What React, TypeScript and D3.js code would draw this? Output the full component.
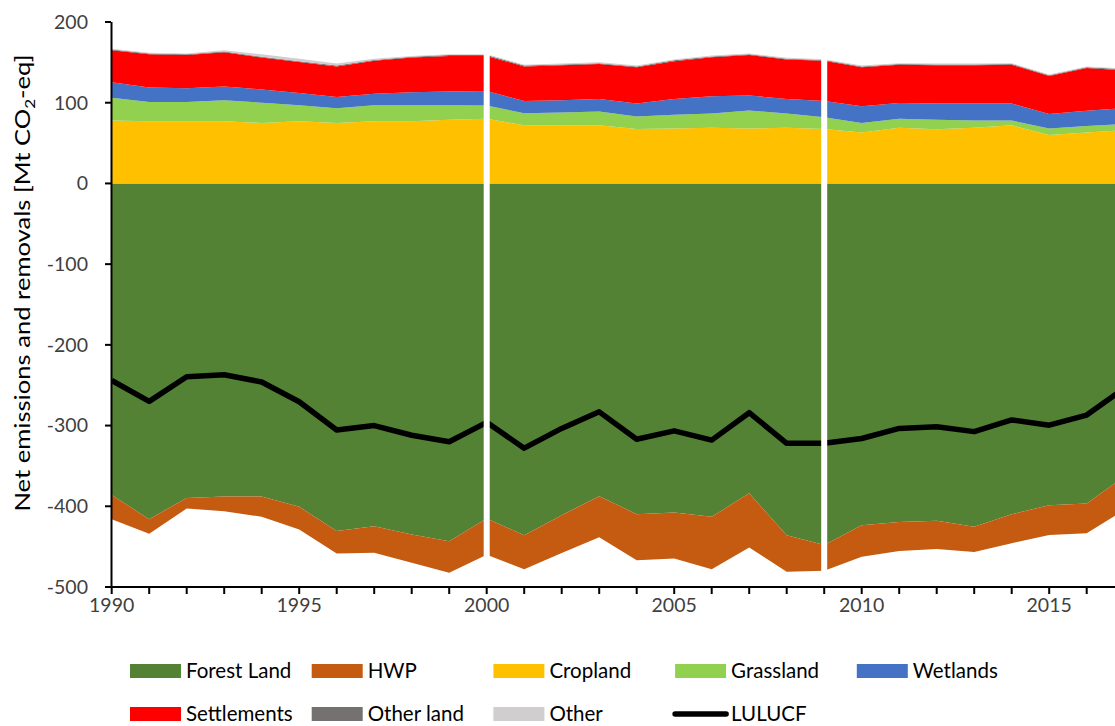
import React from "react";
import * as d3 from "d3";

const years = [1990,1991,1992,1993,1994,1995,1996,1997,1998,1999,2000,2001,2002,2003,2004,2005,2006,2007,2008,2009,2010,2011,2012,2013,2014,2015,2016,2017];

const forestLand = [-386,-416,-389.6,-388,-388,-400.7,-430.5,-424.7,-435,-443.3,-415,-436,-411,-387.5,-409.8,-407.7,-413,-384,-436,-448,-423.5,-419.4,-418,-425.5,-409.8,-398.6,-396.5,-363.5];
const hwp = [-30,-18,-13,-18,-25,-28,-28,-33,-35,-39,-45,-42,-47,-51,-57,-57,-65,-67,-45,-32,-39,-36,-35,-31,-36,-37,-37,-41];
const cropland = [78,77,77,77,75,77,75,77,77,79,80,72,72,72,67.5,68,69,68,69,67.5,63,69,67,69,72,60,63,66];
const grassland = [28,24,24,26,25,20,18,20,20,18,16.5,15,16,17,15.5,17,17.5,22.5,17.5,14.5,12,11,12,9,6,8,8,7.5];
const wetlands = [19.5,18,17,17,16.5,15,14,14,16,17,18,15,15,15.7,16,19.7,21.5,18.5,18.2,20,20.5,19.7,20,21,21,18,19,20];
const settlements = [39.5,41,41,42.5,39.5,38.5,38,41,43,44,43.5,43,43.5,43.3,45,46.8,48.4,50,48.9,50,48.5,47.3,47.5,47.5,48,47,53,46.8];
const otherLand = [1,1,1,1,1,1,1,1,1,1,1,1,1,1,1,1,1,1,1,1,1,1,1,1,1,1,1,1];
const other = [1,1,1,1.5,3,3,2.5,1.5,1,1,1,1,1,1,1,1,1,1,1,1,1,1,1,1,1,1,1,1];
const lulucf = [-244,-270,-239.5,-237,-246,-270.5,-305.5,-300,-312,-320,-296,-328,-303.5,-283,-317,-306.5,-318,-284,-322,-322,-316,-303.5,-301.5,-307.5,-293,-299.5,-287,-254];

const yTicks = [200,100,0,-100,-200,-300,-400,-500];
const xTickLabels = [1990,1995,2000,2005,2010,2015];
const gapYears = [2000,2009];

const posSeries = [
  { name: "Cropland", values: cropland, color: "#FFC000" },
  { name: "Grassland", values: grassland, color: "#92D050" },
  { name: "Wetlands", values: wetlands, color: "#4472C4" },
  { name: "Settlements", values: settlements, color: "#FF0000" },
  { name: "Other land", values: otherLand, color: "#767171" },
  { name: "Other", values: other, color: "#D0CECE" },
];
const negSeries = [
  { name: "Forest Land", values: forestLand, color: "#548235" },
  { name: "HWP", values: hwp, color: "#C55A11" },
];

const legendRows = [
  [
    { name: "Forest Land", color: "#548235", type: "rect" },
    { name: "HWP", color: "#C55A11", type: "rect" },
    { name: "Cropland", color: "#FFC000", type: "rect" },
    { name: "Grassland", color: "#92D050", type: "rect" },
    { name: "Wetlands", color: "#4472C4", type: "rect" },
  ],
  [
    { name: "Settlements", color: "#FF0000", type: "rect" },
    { name: "Other land", color: "#767171", type: "rect" },
    { name: "Other", color: "#D0CECE", type: "rect" },
    { name: "LULUCF", color: "#000000", type: "line" },
  ],
];

const W = 1115, H = 726;
const FONT = "Lato, 'Open Sans', sans-serif";

export default function App() {
  const x = d3.scaleLinear().domain([1990, 2017]).range([111.7, 111.7 + 27 * 37.5]);
  const y = d3.scaleLinear().domain([-500, 200]).range([587, 22]);

  const stackArea = (series) => {
    const out = [];
    const base = years.map(() => 0);
    series.forEach((s) => {
      const lo = base.slice();
      const hi = base.map((b, i) => b + s.values[i]);
      const area = d3.area()
        .x((_, i) => x(years[i]))
        .y0((_, i) => y(lo[i]))
        .y1((_, i) => y(hi[i]));
      out.push({ ...s, d: area(years) });
      hi.forEach((v, i) => (base[i] = v));
    });
    return out;
  };
  const pos = stackArea(posSeries);
  const neg = stackArea(negSeries);

  const line = d3.line().x((_, i) => x(years[i])).y((d) => y(d));

  return (
    <svg width={W} height={H} style={{ position: "absolute", left: 0, top: 0, background: "#fff" }} fontFamily={FONT}>
      <defs>
        <clipPath id="plot">
          <rect x={111} y={0} width={W - 111} height={588} />
        </clipPath>
      </defs>
      <g clipPath="url(#plot)">
        {neg.map((s) => <path key={s.name} d={s.d} fill={s.color} />)}
        {pos.map((s) => <path key={s.name} d={s.d} fill={s.color} />)}
        <path d={line(lulucf)} fill="none" stroke="#000" strokeWidth={5.5} strokeLinejoin="round" />
        {gapYears.map((g) => (
          <rect key={g} x={x(g) - 3} y={22} width={6} height={564} fill="#fff" />
        ))}
      </g>
      {/* y axis */}
      <line x1={111.5} x2={111.5} y1={22} y2={588} stroke="#000" strokeWidth={2} />
      {yTicks.map((t) => (
        <g key={t}>
          <line x1={105} x2={111} y1={y(t)} y2={y(t)} stroke="#000" strokeWidth={2} />
          <text x={88} y={y(t)} dy="0.35em" textAnchor="end" fontSize={19.5} fill="#404040">{t}</text>
        </g>
      ))}
      {/* x axis */}
      <line x1={110} x2={W} y1={587} y2={587} stroke="#000" strokeWidth={2} />
      {years.map((yr) => (
        <line key={yr} x1={x(yr)} x2={x(yr)} y1={587} y2={594} stroke="#000" strokeWidth={2} />
      ))}
      {xTickLabels.map((t) => (
        <text key={t} x={x(t)} y={612} textAnchor="middle" fontSize={19.5} fill="#404040">{t}</text>
      ))}
      <text transform="translate(30,283) rotate(-90) scale(1.22,1)" textAnchor="middle" fontSize={21} fill="#000">
        Net emissions and removals [Mt CO<tspan fontSize={14} dy={5}>2</tspan><tspan dy={-5}>-eq]</tspan>
      </text>
      {/* legend */}
      {legendRows.map((row, ri) => (
        <g key={ri}>
          {row.map((item, ci) => {
            const lx = 130 + ci * 181.7;
            const cy = ri === 0 ? 671 : 714;
            return (
              <g key={item.name}>
                {item.type === "rect" ? (
                  <rect x={lx} y={cy - 7} width={51} height={14} fill={item.color} />
                ) : (
                  <line x1={lx} x2={lx + 51} y1={cy} y2={cy} stroke="#000" strokeWidth={5.5} strokeLinecap="round" />
                )}
                <text x={lx + 56} y={cy} dy="0.35em" fontSize={20.5} fill="#000">{item.name}</text>
              </g>
            );
          })}
        </g>
      ))}
    </svg>
  );
}
